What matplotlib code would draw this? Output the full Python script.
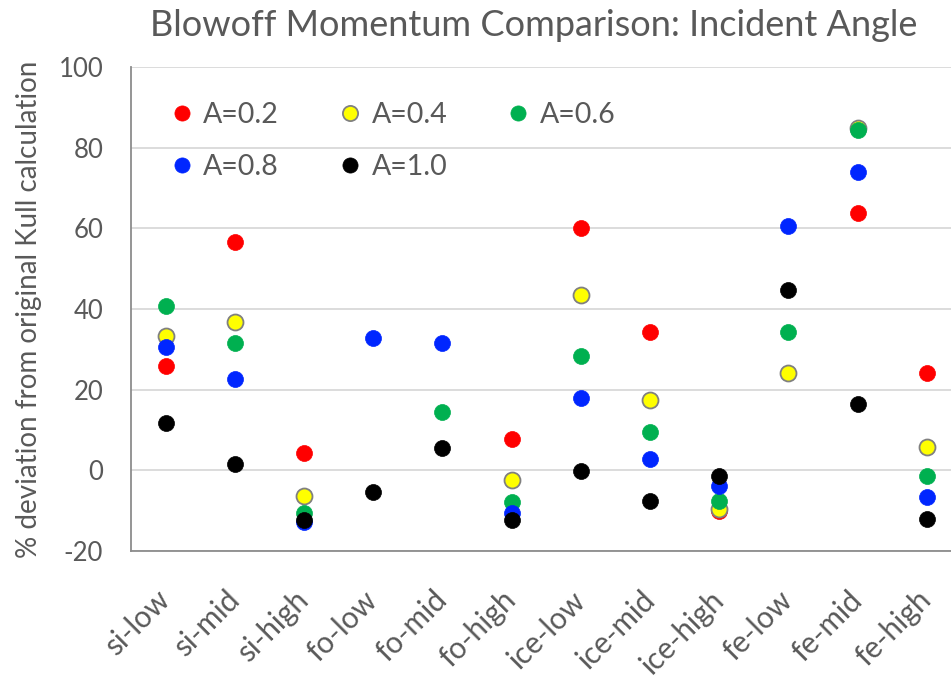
import numpy as np
import matplotlib
matplotlib.use("Agg")
import matplotlib.pyplot as plt

plt.rcParams['font.family'] = ['Lato', 'DejaVu Sans']
plt.rcParams['axes.unicode_minus'] = False

categories = ["si-low", "si-mid", "si-high", "fo-low", "fo-mid", "fo-high",
              "ice-low", "ice-mid", "ice-high", "fe-low", "fe-mid", "fe-high"]
nan = np.nan
a02 = [25.8, 56.6, 4.2, nan, nan, 7.8, 60.1, 34.2, -10.2, nan, 63.8, 24.1]
a04 = [33.4, 36.9, -6.3, nan, nan, -2.3, 43.5, 17.5, -9.7, 24.1, 84.8, 5.9]
a06 = [40.8, 31.6, -10.6, nan, 14.4, -7.9, 28.4, 9.5, -7.5, 34.2, 84.4, -1.5]
a08 = [30.6, 22.7, -12.8, 32.8, 31.6, -10.6, 17.9, 2.9, -3.8, 60.6, 73.9, -6.7]
a10 = [11.7, 1.6, -12.4, -5.4, 5.5, -12.4, -0.1, -7.7, -1.5, 44.7, 16.5, -12.0]
series_labels = ["A=0.2", "A=0.4", "A=0.6", "A=0.8", "A=1.0"]
yticks = [-20, 0, 20, 40, 60, 80, 100]

colors = ["#ff0000", "#ffff00", "#00b050", "#0026ff", "#000000"]
edges = ["#ff0000", "#808080", "#00b050", "#0026ff", "#000000"]
text_color = '#595959'

fig = plt.figure(figsize=(9.51, 6.83), dpi=100)
ax = fig.add_axes([131/951, 1 - 551/683, 1 - 131/951, (551 - 67)/683])
x = np.arange(len(categories))
handles = []
for vals, c, ec, lab in zip([a02, a04, a06, a08, a10], colors, edges, series_labels):
    h, = ax.plot(x, vals, linestyle='none', marker='o', markersize=11.5,
                 markerfacecolor=c, markeredgecolor=ec,
                 markeredgewidth=1.3 if lab == "A=0.4" else 0.5, label=lab, zorder=3)
    handles.append(h)

ax.set_xlim(-0.5, 11.35)
ax.set_ylim(-20, 100)
ax.set_yticks(yticks)
ax.set_xticks(x)
ax.set_xticklabels(categories, rotation=45, ha='right', va='center', rotation_mode='anchor',
                   fontsize=21.5, color=text_color)
ax.tick_params(axis='y', labelsize=18.5, labelcolor=text_color, length=0, pad=20)
ax.tick_params(axis='x', length=0, pad=32)
ax.grid(axis='y', color='#d9d9d9', linewidth=1.3, zorder=0)
ax.set_axisbelow(True)
for s in ['top', 'right']:
    ax.spines[s].set_visible(False)
for s in ['left', 'bottom']:
    ax.spines[s].set_color('#8c8c8c')
    ax.spines[s].set_linewidth(1.3)

ax.set_ylabel("% deviation from original Kull calculation", fontsize=20,
              color=text_color, labelpad=12)
fig.text(534/951, 1 - 25/683, "Blowoff Momentum Comparison: Incident Angle",
         ha='center', va='center', fontsize=26, color=text_color)

order = [0, 3, 1, 4, 2]
leg = ax.legend([handles[i] for i in order], [series_labels[i] for i in order],
                ncol=3, loc='upper left', bbox_to_anchor=(37/820, (551 - 102)/484),
                frameon=False, borderpad=0, borderaxespad=0,
                fontsize=20.5, labelcolor=text_color, handletextpad=0.24,
                columnspacing=2.0, handlelength=1.0, markerscale=0.95,
                labelspacing=0.91)

fig.savefig("out.png", dpi=100)
